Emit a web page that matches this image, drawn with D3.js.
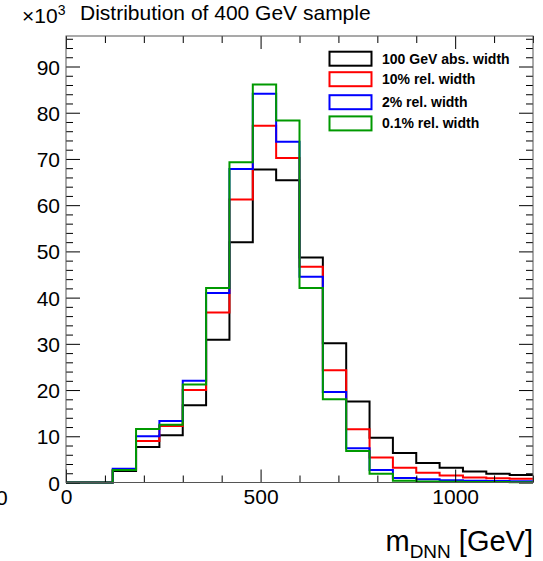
<!DOCTYPE html>
<html>
<head>
<meta charset="utf-8">
<script src="https://cdn.jsdelivr.net/npm/d3@7"></script>
<style>
  html, body { margin: 0; padding: 0; background: #fff; }
  svg { display: block; font-family: "Liberation Sans", Arial, Helvetica, sans-serif; }
</style>
</head>
<body>
<svg id="chart" width="543" height="561"></svg>
<script>
// Bin edges of the m_DNN histogram (GeV): 20 bins of 60 GeV from 0 to 1200
const binEdges = d3.range(0, 1201, 60);

// Entries per bin, in thousands
const absWidth100 = [0, 0, 2.5, 7.7, 10.2, 16.7, 30.9, 52.0, 67.7, 65.4, 48.7, 30.1, 17.5, 9.7, 6.4, 4.2, 3.2, 2.4, 1.9, 1.6];
const relWidth10  = [0, 0, 2.7, 9.0, 12.2, 20.0, 36.8, 61.2, 77.2, 70.2, 46.7, 24.3, 11.5, 5.4, 3.2, 2.1, 1.5, 1.1, 0.9, 0.8];
const relWidth2   = [0, 0, 3.0, 10.0, 13.3, 22.0, 41.0, 67.8, 84.1, 73.7, 44.5, 19.6, 7.4, 2.7, 1.0, 0.7, 0.5, 0.4, 0.3, 0.25];
const relWidth01  = [0, 0, 2.7, 11.6, 12.5, 21.2, 42.1, 69.3, 86.1, 78.3, 42.1, 18.0, 6.8, 1.9, 0.4, 0.2, 0.15, 0.1, 0.1, 0.05];

const seriesNames = ["100 GeV abs. width", "10% rel. width", "2% rel. width", "0.1% rel. width"];
const seriesValues = [absWidth100, relWidth10, relWidth2, relWidth01];
const seriesColors = ["#000000", "#ff0000", "#0000ff", "#009900"];

const yTicks = [0, 10, 20, 30, 40, 50, 60, 70, 80, 90];
const xTicks = [0, 500, 1000];

const svg = d3.select("#chart");
const padL = 66, padR = 533, padT = 36, padB = 482.5;

const x = d3.scaleLinear().domain([0, 1200]).range([padL, padR]);
const y = d3.scaleLinear().domain([0, 96.6]).range([padB, padT]);

// Histograms (drawn first so the frame sits on top)
const step = d3.line().x(d => x(d[0])).y(d => y(d[1]));
seriesValues.forEach((vals, k) => {
  const pts = [[binEdges[0], 0]];
  vals.forEach((v, i) => { pts.push([binEdges[i], v]); pts.push([binEdges[i + 1], v]); });
  svg.append("path")
    .attr("d", step(pts))
    .attr("fill", "none")
    .attr("stroke", seriesColors[k])
    .attr("stroke-width", 2)
    .attr("stroke-linejoin", "miter");
});

// Axes: bottom/left with labels, top/right mirrored ticks only
const xMinor = d3.range(0, 1201, 100).filter(v => v % 500 !== 0);
const yMinor = d3.range(0, 96.6, 2).filter(v => v % 10 !== 0);

const gx = svg.append("g").attr("transform", `translate(0,${padB})`)
  .call(d3.axisBottom(x).tickValues(xTicks).tickSize(-13).tickPadding(7).tickFormat(d3.format("d")));
const gxm = svg.append("g").attr("transform", `translate(0,${padB})`)
  .call(d3.axisBottom(x).tickValues(xMinor).tickSize(-7).tickFormat(""));
const gxt = svg.append("g").attr("transform", `translate(0,${padT})`)
  .call(d3.axisTop(x).tickValues(xTicks).tickSize(-13).tickFormat(""));
const gxtm = svg.append("g").attr("transform", `translate(0,${padT})`)
  .call(d3.axisTop(x).tickValues(xMinor).tickSize(-7).tickFormat(""));

const gy = svg.append("g").attr("transform", `translate(${padL},0)`)
  .call(d3.axisLeft(y).tickValues(yTicks).tickSize(-14).tickPadding(6).tickFormat(d3.format("d")));
const gym = svg.append("g").attr("transform", `translate(${padL},0)`)
  .call(d3.axisLeft(y).tickValues(yMinor).tickSize(-7).tickFormat(""));
const gyr = svg.append("g").attr("transform", `translate(${padR},0)`)
  .call(d3.axisRight(y).tickValues(yTicks).tickSize(-14).tickFormat(""));
const gyrm = svg.append("g").attr("transform", `translate(${padR},0)`)
  .call(d3.axisRight(y).tickValues(yMinor).tickSize(-7).tickFormat(""));

[gx, gxm, gxt, gxtm, gy, gym, gyr, gyrm].forEach(g => {
  g.select(".domain").remove();
  g.selectAll("line").attr("stroke", "#000").attr("stroke-width", 1);
  g.selectAll("text").attr("fill", "#000").attr("font-size", 21)
    .attr("font-family", "'Liberation Sans', Arial, sans-serif");
});
gy.selectAll("text").attr("dy", "0.36em");
gx.selectAll("text").attr("dy", "0.71em");

// Frame
svg.append("rect")
  .attr("x", padL).attr("y", padT)
  .attr("width", padR - padL).attr("height", padB - padT)
  .attr("fill", "none").attr("stroke", "#555").attr("stroke-width", 1);

// Stray zero at the far left edge
svg.append("text").attr("x", -4).attr("y", 504.5).attr("font-size", 21).text("0");

// Exponent and title
const ex = svg.append("text").attr("x", 22).attr("y", 22.5).attr("font-size", 21);
ex.append("tspan").text("\u00d710");
ex.append("tspan").attr("font-size", 14).attr("dy", -8).text("3");
svg.append("text").attr("x", 80).attr("y", 19.5).attr("font-size", 21)
  .text("Distribution of 400 GeV sample");

// Axis title
const xt = svg.append("text").attr("x", 533).attr("y", 551).attr("text-anchor", "end").attr("font-size", 29);
xt.append("tspan").text("m");
xt.append("tspan").attr("font-size", 19).attr("dy", 7).text("DNN");
xt.append("tspan").attr("dy", -7).text(" [GeV]");

// Legend
const legend = svg.append("g");
const rowY = [58.7, 79.2, 102.2, 123.4];
seriesNames.forEach((name, k) => {
  legend.append("rect")
    .attr("x", 329.5).attr("y", rowY[k] - 7).attr("width", 42).attr("height", 14)
    .attr("fill", "none").attr("stroke", seriesColors[k]).attr("stroke-width", 2);
  legend.append("text")
    .attr("x", 382).attr("y", rowY[k] + 5)
    .attr("font-size", 14).attr("font-weight", "bold").text(name);
});
</script>
</body>
</html>
